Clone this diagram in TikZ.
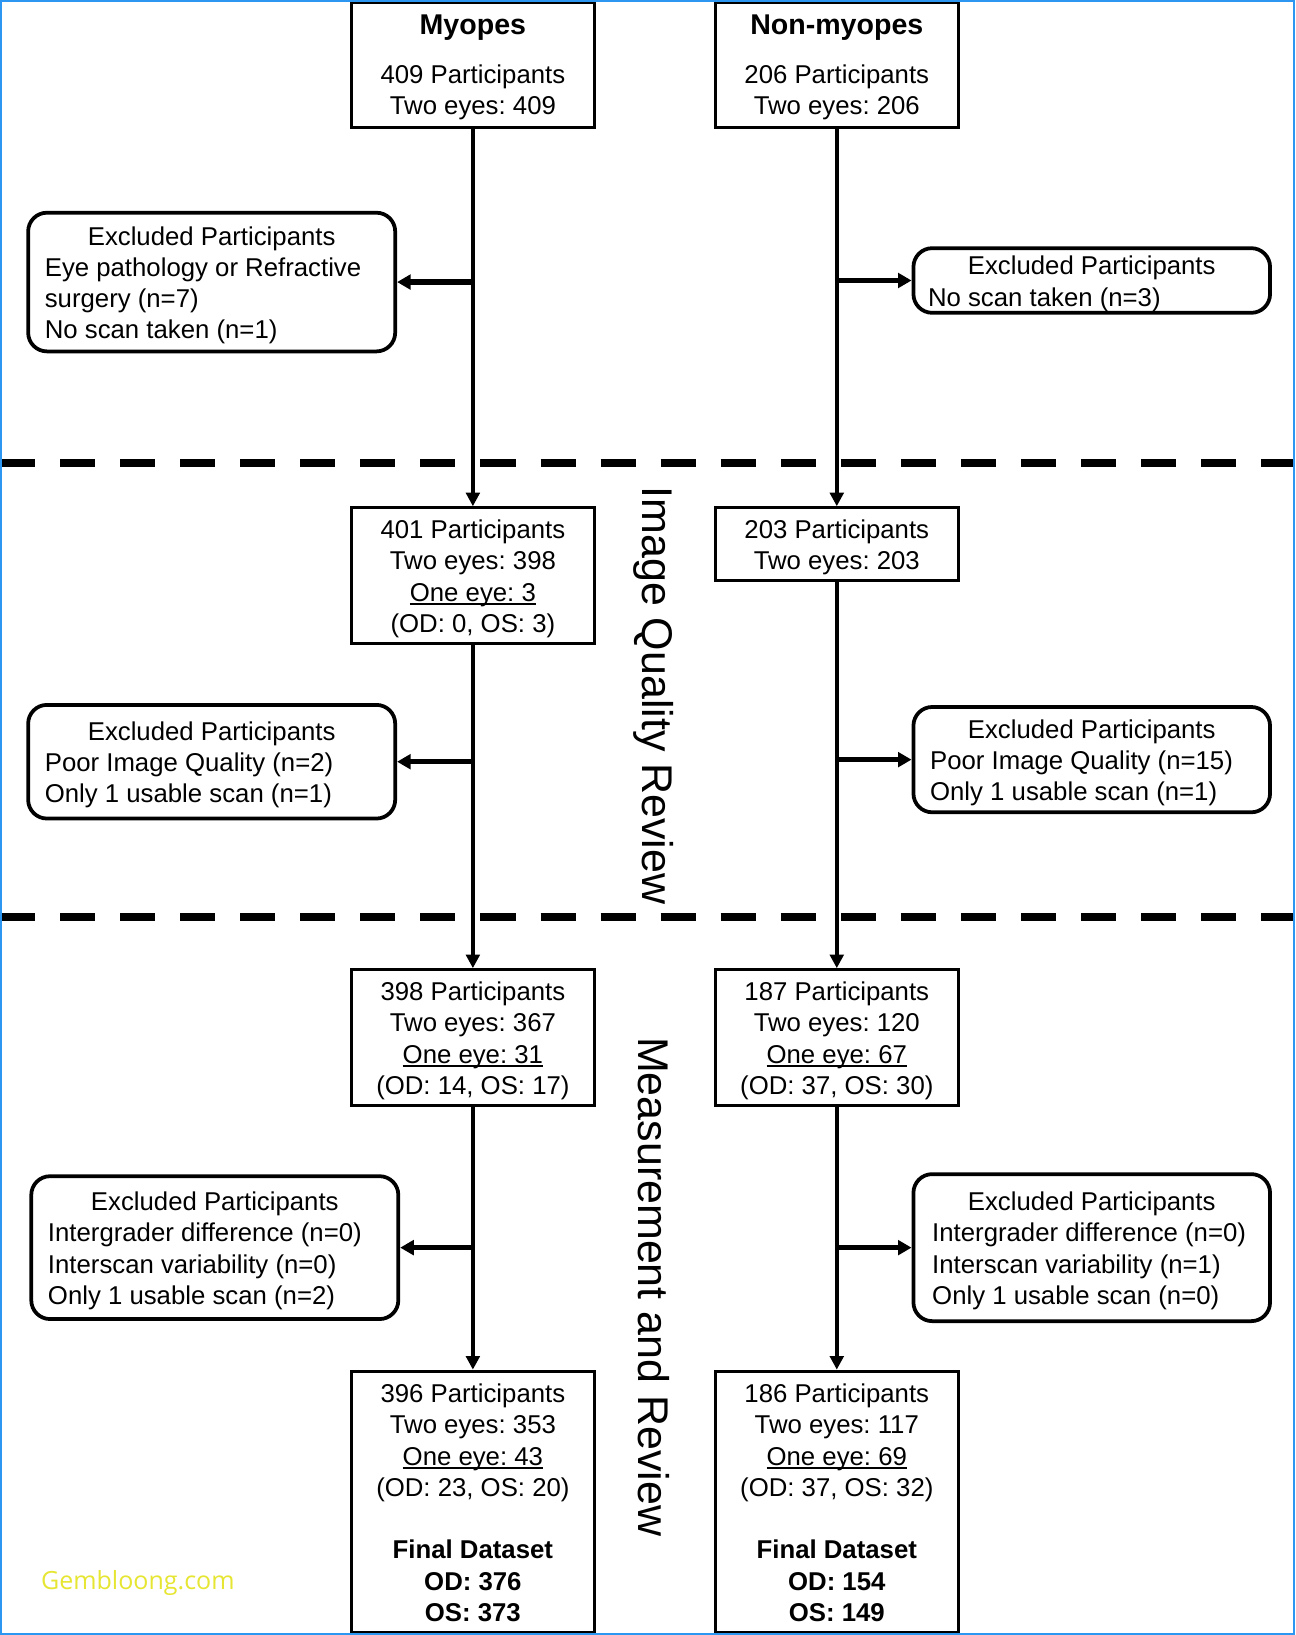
\documentclass[tikz,border=0pt]{standalone}
\usepackage{fontspec}
\setmainfont{Liberation Sans}
\newfontfamily\wmfont{Open Sans}
\usetikzlibrary{arrows.meta}
\frenchspacing
\definecolor{frameblue}{RGB}{45,150,240}
\definecolor{wmyellow}{RGB}{230,230,50}
\newcommand{\ttlline}[1]{\makebox[\linewidth][c]{#1}}
\newcommand{\grouphead}[1]{{\fontsize{13.7}{16}\selectfont\bfseries #1}}
\newcommand{\uln}[1]{\leavevmode\setbox0=\hbox{#1}\rlap{\rule[-2pt]{\wd0}{0.9pt}}\box0}
\newcommand{\mbtext}[1]{\raisebox{-1.75pt}[\height][\depth]{\begin{tabular}{@{}c@{}}#1\end{tabular}}}
\newcommand{\exbtext}[2]{\raisebox{-1.75pt}[\height][\depth]{\begin{tabular}{@{}p{#1}@{}}#2\end{tabular}}}
\tikzset{
  mainbox/.style={draw, line width=1.5pt, minimum width=116.5pt, inner sep=0pt,
    font=\fontsize{12.35}{15}\selectfont\frenchspacing},
  exbox/.style={draw, line width=1.8pt, rounded corners=9pt, inner ysep=0pt,
    inner xsep=8pt, font=\fontsize{12.35}{15}\selectfont\frenchspacing},
  flow/.style={line width=2pt, -{Triangle[length=6.5pt,width=6.5pt]}},
  branch/.style={line width=2.5pt, -{Triangle[length=6.5pt,width=7pt]}},
  sepline/.style={line width=3.84pt, dash pattern=on 16.8pt off 12pt},
  phase/.style={font=\fontsize{20.6}{24}\selectfont, rotate=-90, inner sep=0pt},
}
\begin{document}
\begin{tikzpicture}[x=0.5pt,y=-0.5pt]
\useasboundingbox (0,0) rectangle (1242,1568);
\fill[white] (0,0) rectangle (1242,1568);

% separators
\draw[sepline] (0,444) -- (1242,444);
\draw[sepline] (0,879) -- (1242,879);

% phase labels
\node[phase] (iqr) at (627,667) {Image Quality Review};
\node[phase] (mar) at (627,1234) {Measurement and Review};

% top boxes
\node[mainbox, minimum height=60pt] (myo) at (453.5,62)
  {\mbtext{\grouphead{Myopes}\\[8.5pt]409 Participants\\Two eyes: 409}};
\node[mainbox, minimum height=60pt] (non) at (802.5,62)
  {\mbtext{\grouphead{Non-myopes}\\[8.5pt]206 Participants\\Two eyes: 206}};

% exclusion boxes stage 1
\node[exbox, minimum width=176pt, minimum height=66.5pt] (ex1L) at (203,270.5)
  {\exbtext{160pt}{\ttlline{Excluded Participants}\\Eye pathology or Refractive\\surgery (n=7)\\No scan taken (n=1)}};
\node[exbox, minimum width=171pt, minimum height=31pt, inner xsep=7pt] (ex1R) at (1047,269)
  {\exbtext{157pt}{\ttlline{Excluded Participants}\\No scan taken (n=3)}};

% stage 2 boxes
\node[mainbox, minimum height=65pt] (b401) at (453.5,552)
  {\mbtext{401 Participants\\Two eyes: 398\\\uln{One eye: 3}\\(OD: 0, OS: 3)}};
\node[mainbox, minimum height=35pt] (b203) at (802.5,522)
  {\mbtext{203 Participants\\Two eyes: 203}};

\node[exbox, minimum width=176pt, minimum height=54.5pt] (ex2L) at (203,730.5)
  {\exbtext{160pt}{\ttlline{Excluded Participants}\\Poor Image Quality (n=2)\\Only 1 usable scan (n=1)}};
\node[exbox, minimum width=171pt, minimum height=50.5pt] (ex2R) at (1047,728.5)
  {\exbtext{155pt}{\ttlline{Excluded Participants}\\Poor Image Quality (n=15)\\Only 1 usable scan (n=1)}};

% stage 3 boxes
\node[mainbox, minimum height=65pt] (b398) at (453.5,995)
  {\mbtext{398 Participants\\Two eyes: 367\\\uln{One eye: 31}\\(OD: 14, OS: 17)}};
\node[mainbox, minimum height=65pt] (b187) at (802.5,995)
  {\mbtext{187 Participants\\Two eyes: 120\\\uln{One eye: 67}\\(OD: 37, OS: 30)}};

\node[exbox, minimum width=176pt, minimum height=68.5pt] (ex3L) at (206,1196.5)
  {\exbtext{160pt}{\ttlline{Excluded Participants}\\Intergrader difference (n=0)\\Interscan variability (n=0)\\Only 1 usable scan (n=2)}};
\node[exbox, minimum width=171pt, minimum height=70.5pt, inner xsep=9pt] (ex3R) at (1047,1196.5)
  {\exbtext{153pt}{\ttlline{Excluded Participants}\\Intergrader difference (n=0)\\Interscan variability (n=1)\\Only 1 usable scan (n=0)}};

% final boxes
\node[mainbox, minimum height=125.5pt] (b396) at (453.5,1440.5)
  {\mbtext{396 Participants\\Two eyes: 353\\\uln{One eye: 43}\\(OD: 23, OS: 20)\\[15pt]
   \textbf{Final Dataset}\\\textbf{OD: 376}\\\textbf{OS: 373}}};
\node[mainbox, minimum height=125.5pt] (b186) at (802.5,1440.5)
  {\mbtext{186 Participants\\Two eyes: 117\\\uln{One eye: 69}\\(OD: 37, OS: 32)\\[15pt]
   \textbf{Final Dataset}\\\textbf{OD: 154}\\\textbf{OS: 149}}};

% vertical flow
\draw[flow] (myo.south) -- (b401.north);
\draw[flow] (b401.south) -- (b398.north);
\draw[flow] (b398.south) -- (b396.north);
\draw[flow] (non.south) -- (b203.north);
\draw[flow] (b203.south) -- (b187.north);
\draw[flow] (b187.south) -- (b186.north);

% branches
\draw[branch] (myo.south |- ex1L.east) -- (ex1L.east);
\draw[branch] (non.south |- ex1R.west) -- (ex1R.west);
\draw[branch] (b401.south |- ex2L.east) -- (ex2L.east);
\draw[branch] (b203.south |- ex2R.west) -- (ex2R.west);
\draw[branch] (b398.south |- ex3L.east) -- (ex3L.east);
\draw[branch] (b187.south |- ex3R.west) -- (ex3R.west);

% watermark
\node[font=\wmfont\fontsize{12}{14}\selectfont, text=wmyellow, anchor=base west, inner sep=0pt] (wm) at (39,1524) {Gembloong.com};

% frame
\draw[frameblue, line width=1.1pt] (1.1,1.1) rectangle (1240.9,1566.9);
\end{tikzpicture}
\end{document}
